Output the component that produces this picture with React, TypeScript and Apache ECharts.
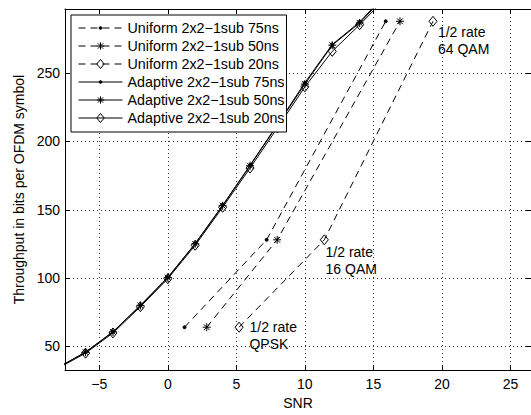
import React, { useEffect, useRef } from 'react';
import * as echarts from 'echarts';

// ---- data ----
const snrAdaptive = [-8, -6, -4, -2, 0, 2, 4, 6, 8, 10, 12, 14, 16];
const adaptive75 = [34.5, 45.8, 60.7, 80, 100.5, 125.3, 153.2, 182.5, 212.5, 243, 271, 287.5, 309];
const adaptive50 = [34.5, 45.7, 60.5, 79.8, 100.3, 125, 153, 182.2, 212, 242, 270.5, 286.8, 308];
const adaptive20 = [34, 45, 59.8, 79, 99.5, 124, 151.8, 180.5, 210, 240, 266, 285.5, 306];

const uniformThroughput = [64, 128, 288];
const uniform75Snr = [1.22, 7.21, 15.9];
const uniform50Snr = [2.84, 7.98, 16.94];
const uniform20Snr = [5.2, 11.42, 19.35];

const seriesNames = [
  'Uniform 2x2\u22121sub 75ns',
  'Uniform 2x2\u22121sub 50ns',
  'Uniform 2x2\u22121sub 20ns',
  'Adaptive 2x2\u22121sub 75ns',
  'Adaptive 2x2\u22121sub 50ns',
  'Adaptive 2x2\u22121sub 20ns',
];

const annotationSnr = [5.96, 11.51, 19.71];
const annotationY = [58.2, 113.2, 274.1];
const annotationText = ['1/2 rate\nQPSK', '1/2 rate\n16 QAM', '1/2 rate\n64 QAM'];

const xTickValues = [-5, 0, 5, 10, 15, 20, 25];
const yTickValues = [50, 100, 150, 200, 250];

const FONT = '"Liberation Sans", Arial, Helvetica, sans-serif';

// marker shapes (invisible moveTo corners fix the bounding box)
const DOT = 'path://M-7,-7M7,7M0,-1.5A1.5,1.5,0,1,1,0,1.5A1.5,1.5,0,1,1,0,-1.5Z';
const STAR = 'path://M-7,-7M7,7M0,-4L0,4M-4,0L4,0M-2.9,-2.9L2.9,2.9M-2.9,2.9L2.9,-2.9';
const DIAMOND = 'path://M-7,-7M7,7M0,-5L4,0L0,5L-4,0Z';

function zip(xs: number[], ys: number[]) {
  return xs.map((x, i) => [x, ys[i]]);
}

export default function App() {
  const ref = useRef<HTMLDivElement>(null);
  useEffect(() => {
    if (!ref.current) return;
    const chart = echarts.init(ref.current, null, { renderer: 'svg' });

    const markerFor = [DOT, STAR, DIAMOND];
    const fillFor = ['#000', 'rgba(0,0,0,0)', 'rgba(0,0,0,0)'];
    const uniformSnr = [uniform75Snr, uniform50Snr, uniform20Snr];
    const adaptiveY = [adaptive75, adaptive50, adaptive20];

    const lineSeries: any[] = [];
    for (let i = 0; i < 3; i++) {
      lineSeries.push({
        name: seriesNames[i],
        type: 'line',
        data: zip(uniformSnr[i], uniformThroughput),
        symbol: markerFor[i],
        symbolSize: 14,
        showSymbol: true,
        clip: true,
        silent: true,
        lineStyle: { color: '#000', width: 1, type: [7, 5] },
        itemStyle: { color: fillFor[i], borderColor: '#000', borderWidth: 1 },
        emphasis: { disabled: true },
        z: 3,
      });
    }
    for (let i = 0; i < 3; i++) {
      lineSeries.push({
        name: seriesNames[3 + i],
        type: 'line',
        data: zip(snrAdaptive, adaptiveY[i]),
        symbol: markerFor[i],
        symbolSize: 14,
        showSymbol: true,
        clip: true,
        silent: true,
        lineStyle: { color: '#000', width: 1, type: 'solid' },
        itemStyle: { color: fillFor[i], borderColor: '#000', borderWidth: 1 },
        emphasis: { disabled: true },
        z: 3,
      });
    }

    const annotationSeries = {
      name: 'annotations',
      type: 'scatter',
      data: annotationSnr.map((x, i) => ({ value: [x, annotationY[i]], text: annotationText[i] })),
      symbol: 'circle',
      symbolSize: 0,
      silent: true,
      itemStyle: { color: '#000', opacity: 1 },
      label: {
        show: true,
        position: 'right',
        distance: 0,
        formatter: (p: any) => p.data.text,
        color: '#000',
        opacity: 1,
        fontFamily: FONT,
        fontSize: 14,
        lineHeight: 17,
        align: 'left',
      },
      emphasis: { disabled: true },
      z: 4,
    };

    const gridLine = { show: true, lineStyle: { color: '#333', width: 1, type: [1, 3] } };
    const axisLine = { show: true, onZero: false, lineStyle: { color: '#000', width: 1 } };
    const tick = { show: true, inside: true, length: 5, lineStyle: { color: '#000' } };

    const xFmt = (v: number) => {
      const t = xTickValues.find((a) => Math.abs(a - v) < 1e-6);
      if (t === undefined) return '';
      return t < 0 ? '\u2212' + Math.abs(t) : String(t);
    };
    const yFmt = (v: number) => {
      const t = yTickValues.find((a) => Math.abs(a - v) < 1e-6);
      return t === undefined ? '' : String(t);
    };

    chart.setOption({
      animation: false,
      backgroundColor: '#fff',
      grid: { left: 65, right: -5, top: 9, bottom: 37, containLabel: false },
      xAxis: [
        {
          type: 'value',
          min: -7.5,
          max: 26.5,
          position: 'bottom',
          axisLine,
          axisTick: tick,
          splitLine: gridLine,
          axisLabel: {
            formatter: xFmt,
            showMinLabel: false,
            showMaxLabel: false,
            color: '#000',
            fontFamily: FONT,
            fontSize: 14,
            margin: 7,
          },
          name: 'SNR',
          nameLocation: 'middle',
          nameGap: 23,
          nameTextStyle: { color: '#000', fontFamily: FONT, fontSize: 14 },
        },
        {
          type: 'value',
          min: -7.5,
          max: 26.5,
          position: 'top',
          axisLine,
          axisTick: tick,
          splitLine: { show: false },
          axisLabel: { show: false },
        },
      ],
      yAxis: [
        {
          type: 'value',
          min: 32.6,
          max: 297,
          position: 'left',
          axisLine,
          axisTick: tick,
          splitLine: gridLine,
          axisLabel: {
            formatter: yFmt,
            showMinLabel: false,
            showMaxLabel: false,
            color: '#000',
            fontFamily: FONT,
            fontSize: 14,
            margin: 5,
          },
          name: 'Throughput in bits per OFDM symbol',
          nameLocation: 'middle',
          nameGap: 36,
          nameTextStyle: { color: '#000', fontFamily: FONT, fontSize: 14 },
        },
        {
          type: 'value',
          min: 32.6,
          max: 297,
          position: 'right',
          axisLine,
          axisTick: tick,
          splitLine: { show: false },
          axisLabel: { show: false },
        },
      ],
      legend: {
        show: true,
        data: seriesNames,
        orient: 'vertical',
        left: 71,
        top: 15,
        padding: [6, 2, 7, 7],
        itemWidth: 44,
        itemHeight: 16,
        itemGap: 4,
        borderColor: '#000',
        borderWidth: 1,
        backgroundColor: '#fff',
        selectedMode: false,
        lineStyle: { width: 1 },
        itemStyle: { borderWidth: 1 },
        textStyle: { color: '#000', fontFamily: FONT, fontSize: 14.3 },
        z: 10,
      },
      series: [...lineSeries, annotationSeries],
    });

    return () => chart.dispose();
  }, []);

  return (
    <div
      ref={ref}
      style={{ position: 'fixed', left: 0, top: 0, width: 531, height: 415, overflow: 'hidden' }}
    />
  );
}
